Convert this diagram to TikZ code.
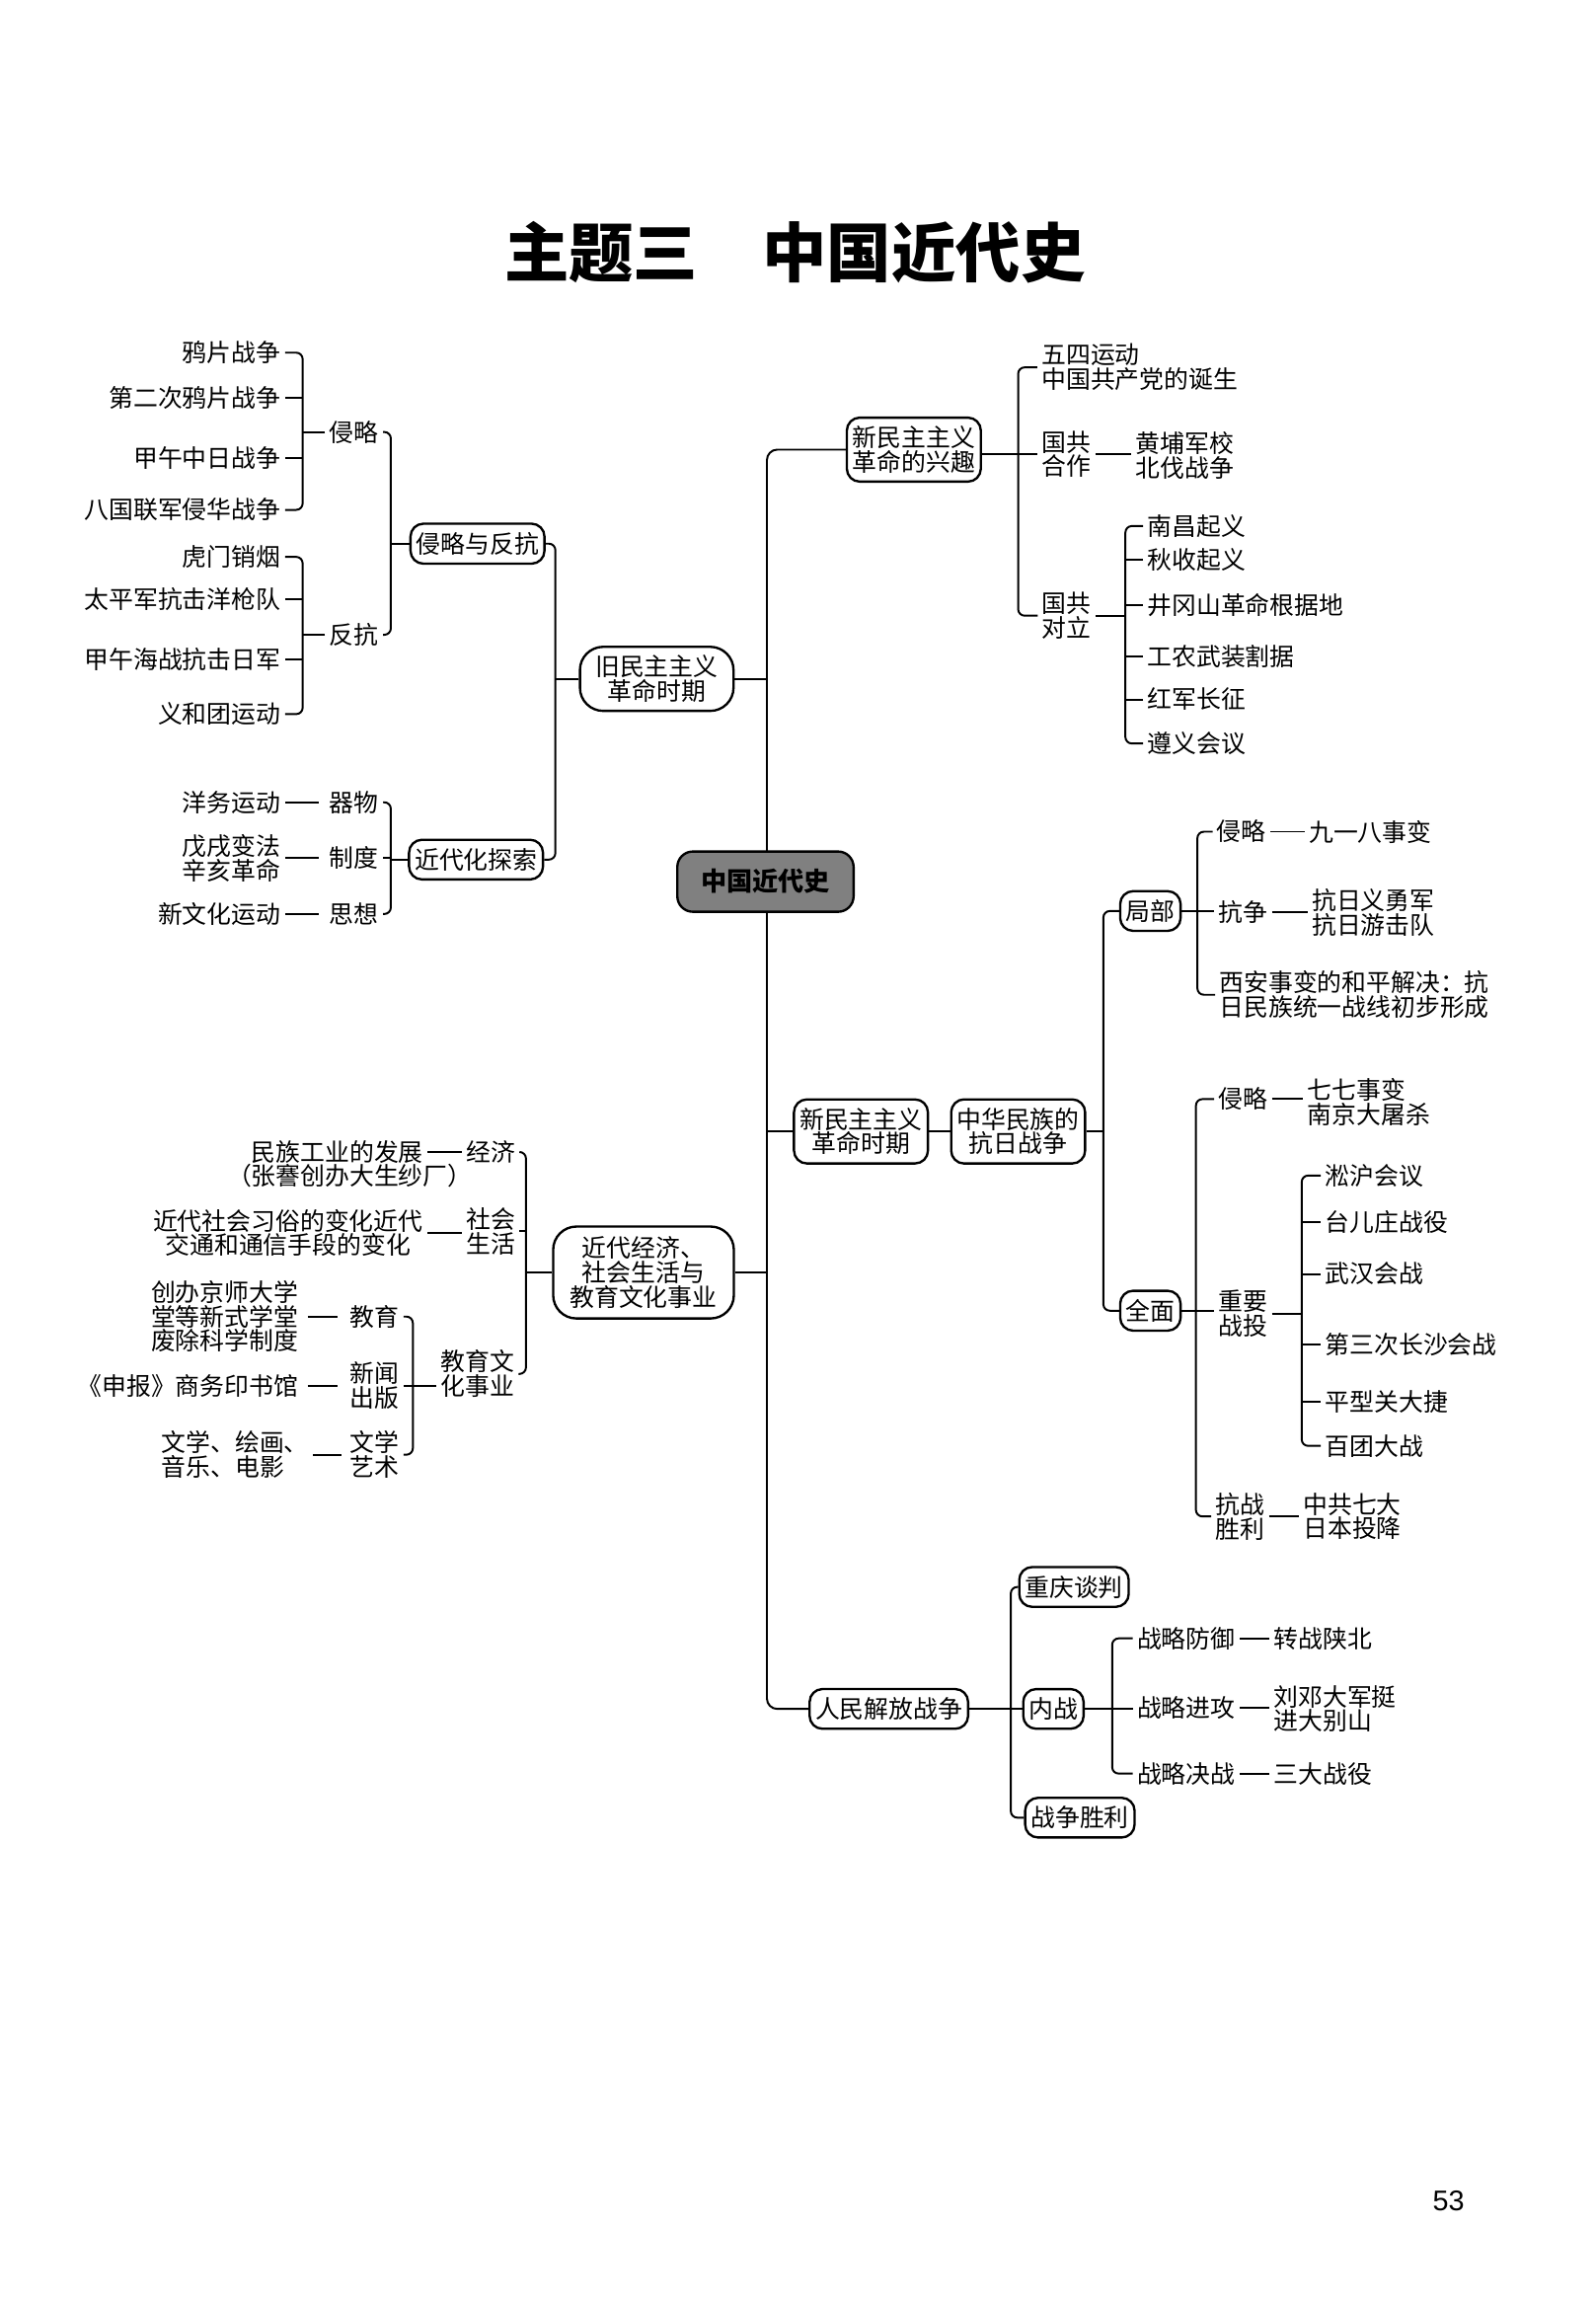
\documentclass[tikz,border=0pt]{standalone}
\usepackage{fontspec}
\setmainfont{Noto Sans CJK SC}
\newfontfamily\numfont{Liberation Sans}
\usepackage{tikz}
\usetikzlibrary{positioning, calc}

\tikzset{
  link/.style={line width=0.75pt, rounded corners=2.5pt},
  tie/.style={line width=0.75pt},
  item/.style={inner xsep=1.5pt, inner ysep=1pt, align=center, font=\fontsize{9.5}{9.4}\selectfont},
  box/.style={item, draw, line width=0.9pt, rounded corners=5pt, inner xsep=2.2pt, inner ysep=3.3pt, fill=white},
  rootbox/.style={box, fill=black!50, rounded corners=6pt, minimum width=2.4cm, minimum height=0.82cm,
                  font=\fontsize{10}{12}\selectfont\bfseries}
}

\begin{document}
\begin{tikzpicture}[x=0.02cm, y=-0.02cm]
  \useasboundingbox (0,0) rectangle (1086,1568);

  % Title
  \node[font=\fontsize{25}{30}\selectfont\bfseries] (title) at (541,172) {主题三　中国近代史};

  % Bars of the brackets
  \coordinate (sp) at (522,0);
  \coordinate (lbar) at (206,0);
  \coordinate (mbar) at (266,0);
  \coordinate (jbar) at (378,0);
  \coordinate (kbar) at (358,0);
  \coordinate (ebar) at (281,0);
  \coordinate (rbar) at (693,0);
  \coordinate (dbar) at (766,0);
  \coordinate (kbar2) at (751,0);
  \coordinate (jbar2) at (815,0);
  \coordinate (qbar) at (814,0);
  \coordinate (zbar) at (886,0);
  \coordinate (pbar) at (688,0);
  \coordinate (nbar) at (757,0);

  % Old democratic revolution
  \node[box] (qlfk) at (325,370) {侵略与反抗};
  \node[box] (jdh) at (324,585) {近代化探索};
  \node[box, inner xsep=6pt, rounded corners=9pt] (jiu) at (447,462) {旧民主主义\\革命时期};
  \node[item] (ql) at (241,294) {侵略};
  \node[item] (fk) at (241,432) {反抗};
  \foreach \n/\y/\t in {qa1/240/鸦片战争, qa2/271/第二次鸦片战争, qa3/312/甲午中日战争, qa4/347/八国联军侵华战争,
                        fk1/379/虎门销烟, fk2/408/太平军抗击洋枪队, fk3/449/甲午海战抗击日军, fk4/486/义和团运动}
    \node[item, anchor=east] (\n) at (194,\y) {\t};
  \draw[link] (qa1.east) -| (lbar |- qa4.east) -- (qa4.east);
  \draw[link] (fk1.east) -| (lbar |- fk4.east) -- (fk4.east);
  \foreach \n in {qa2,qa3,fk2,fk3} \draw[link] (\n.east) -- (\n.east -| lbar);
  \draw[link] (ql.west) -- (ql.west -| lbar);
  \draw[link] (fk.west) -- (fk.west -| lbar);
  \draw[link] (ql.east) -| (mbar |- fk.east) -- (fk.east);
  \draw[link] (qlfk.west) -- (qlfk.west -| mbar);
  \draw[link] (qlfk.east) -| (jbar |- jdh.east) -- (jdh.east);
  \draw[link] (jiu.west) -- (jiu.west -| jbar);

  \foreach \n/\y/\t in {qw/546/器物, zd/584/制度, sx/622/思想}
    \node[item] (\n) at (241,\y) {\t};
  \foreach \n/\y/\t in {yw/546/洋务运动, wx/584/{戊戌变法\\辛亥革命}, xwh/622/新文化运动}
    \node[item, anchor=east] (\n) at (194,\y) {\t};
  \foreach \a/\b in {yw/qw, wx/zd, xwh/sx} \draw[tie, shorten >=2.5pt] (\a.east) -- (\a.east -| \b.west);
  \draw[link] (qw.east) -| (mbar |- sx.east) -- (sx.east);
  \draw[link] (zd.east) -- (zd.east -| mbar);
  \draw[link] (jdh.west) -- (jdh.west -| mbar);

  % Economy, society and culture
  \node[box, inner xsep=6.5pt, inner ysep=4pt, rounded corners=9pt] (jd) at (438,866) {近代经济、\\社会生活与\\教育文化事业};
  \node[item] (jj) at (334,784) {经济};
  \node[item] (shsh) at (334,838) {社会\\生活};
  \node[item] (jywh) at (325,935) {教育文\\化事业};
  \draw[link] (jj.east) -| (kbar |- jywh.east) -- (jywh.east);
  \draw[link] (shsh.east) -- (shsh.east -| kbar);
  \draw[link] (jd.west) -- (jd.west -| kbar);

  \node[item] (jy) at (255,896) {教育};
  \node[item] (xw) at (255,943) {新闻\\出版};
  \node[item] (wxys) at (255,990) {文学\\艺术};
  \draw[link] (jy.east) -| (ebar |- wxys.east) -- (wxys.east);
  \draw[link] (xw.east) -- (xw.east -| jywh.west);

  \node[item, anchor=east] (ms1) at (291,784) {民族工业的发展};
  \node[item] (ms2) at (238,800) {（张謇创办大生纱厂）};
  \node[item] (shbh) at (196,839) {近代社会习俗的变化近代\\交通和通信手段的变化};
  \node[item, anchor=east] (jyx) at (206,896) {创办京师大学\\堂等新式学堂\\废除科学制度};
  \node[item, anchor=east] (sb) at (206,943) {《申报》商务印书馆};
  \node[item, anchor=west, align=left] (wxy) at (107,990) {文学、绘画、\\音乐、电影};
  \draw[tie] (ms1.east) -- (ms1.east -| jj.west);
  \draw[tie] (shbh.east) -- (shbh.east -| shsh.west);
  \foreach \a/\b in {jyx/jy, sb/xw}
    \draw[tie, shorten <=2pt, shorten >=3pt] (\a.east) -- (\a.east -| \b.west);
  \draw[tie, shorten >=1.5pt] (wxy.east) -- (wxy.east -| wxys.west);

  % New democratic revolution: rise
  \node[box] (xinxing) at (622,306) {新民主主义\\革命的兴趣};
  \node[item, anchor=west, align=left] (ws) at (706,250) {五四运动\\中国共产党的诞生};
  \node[item] (hz) at (726,309) {国共\\合作};
  \node[item] (dl) at (726,419) {国共\\对立};
  \node[item, anchor=west, align=left] (hp) at (770,310) {黄埔军校\\北伐战争};
  \draw[link] (ws.west) -| (rbar |- dl.west) -- (dl.west);
  \draw[link] (hz.west -| xinxing.east) -- (hz.west);
  \draw[tie] (hz.east) -- (hz.east -| hp.west);
  \foreach \n/\y/\t in {gd1/358/南昌起义, gd2/381/秋收起义, gd3/412/井冈山革命根据地,
                        gd4/447/工农武装割据, gd5/476/红军长征, gd6/506/遵义会议}
    \node[item, anchor=west] (\n) at (778,\y) {\t};
  \draw[link] (gd1.west) -| (dbar |- gd6.west) -- (gd6.west);
  \foreach \n in {gd2,gd3,gd4,gd5} \draw[link] (\n.west) -- (\n.west -| dbar);
  \draw[link] (dl.east) -- (dl.east -| dbar);

  % New democratic revolution: war of resistance
  \node[box] (xinshi) at (586,770) {新民主主义\\革命时期};
  \node[box] (kangri) at (693,770) {中华民族的\\抗日战争};
  \draw[tie] (xinshi.east) -- (kangri.west);
  \node[box] (jubu) at (783,620) {局部};
  \node[box] (qm) at (783,892) {全面};
  \draw[link] (jubu.west) -| (kbar2 |- qm.west) -- (qm.west);
  \draw[link] (kangri.east) -- (kangri.east -| kbar2);

  \node[item] (ql2) at (845,566) {侵略};
  \node[item] (kz) at (846,621) {抗争};
  \node[item, anchor=west, align=left] (xa) at (827,677) {西安事变的和平解决：抗\\日民族统一战线初步形成};
  \node[item, anchor=west] (jyb) at (888,566) {九一八事变};
  \node[item, anchor=west, align=left] (kzx) at (890,621) {抗日义勇军\\抗日游击队};
  \draw[link] (ql2.west) -| (jbar2 |- xa.west) -- (xa.west);
  \draw[link] (jubu.east) -- (jubu.east -| kz.west);
  \draw[tie] (ql2.east) -- (ql2.east -| jyb.west);
  \draw[tie] (kz.east) -- (kz.east -| kzx.west);

  \node[item] (ql3) at (846,748) {侵略};
  \node[item] (zyzy) at (846,894) {重要\\战投};
  \node[item] (kzsl) at (844,1032) {抗战\\胜利};
  \node[item, anchor=west, align=left] (nj) at (887,750) {七七事变\\南京大屠杀};
  \node[item, anchor=west, align=left] (ry) at (884,1032) {中共七大\\日本投降};
  \draw[link] (ql3.west) -| (qbar |- kzsl.west) -- (kzsl.west);
  \draw[link] (qm.east) -- (qm.east -| zyzy.west);
  \draw[tie] (ql3.east) -- (ql3.east -| nj.west);
  \draw[tie] (kzsl.east) -- (kzsl.east -| ry.west);
  \foreach \n/\y/\t in {zh1/800/淞沪会议, zh2/832/台儿庄战役, zh3/867/武汉会战,
                        zh4/915/第三次长沙会战, zh5/954/平型关大捷, zh6/984/百团大战}
    \node[item, anchor=west] (\n) at (899,\y) {\t};
  \draw[link] (zh1.west) -| (zbar |- zh6.west) -- (zh6.west);
  \foreach \n in {zh2,zh3,zh4,zh5} \draw[link] (\n.west) -- (\n.west -| zbar);
  \draw[link] (zyzy.east) -- (zyzy.east -| zbar);

  % Liberation war
  \node[box] (jf) at (605,1163) {人民解放战争};
  \node[box] (cq) at (731,1080) {重庆谈判};
  \node[box] (nz) at (717,1163) {内战};
  \node[box] (zs) at (735,1237) {战争胜利};
  \draw[link] (cq.west) -| (pbar |- zs.west) -- (zs.west);
  \draw[link] (jf.east) -- (nz.west);
  \node[item, anchor=west] (fy) at (771,1115) {战略防御};
  \node[item, anchor=west] (jg) at (771,1162) {战略进攻};
  \node[item, anchor=west] (jz) at (771,1207) {战略决战};
  \node[item, anchor=west] (zz) at (864,1115) {转战陕北};
  \node[item, anchor=west, align=left] (ld) at (864,1163) {刘邓大军挺\\进大别山};
  \node[item, anchor=west] (sd) at (864,1207) {三大战役};
  \draw[link] (fy.west) -| (nbar |- jz.west) -- (jz.west);
  \draw[link] (nz.east) -- (nz.east -| jg.west);
  \foreach \a/\b in {fy/zz, jg/ld, jz/sd} \draw[tie] (\a.east) -- (\a.east -| \b.west);

  % Main spine and root
  \draw[link, rounded corners=4pt] (xinxing.west) -| (sp |- jf.west) -- (jf.west);
  \draw[link] (jiu.east) -- (jiu.east -| sp);
  \draw[link] (jd.east) -- (jd.east -| sp);
  \draw[link] (xinshi.west -| sp) -- (xinshi.west);
  \node[rootbox] (root) at (521,600) {中国近代史};

  % Page number
  \node[font=\numfont\fontsize{11}{13}\selectfont] (pg) at (986,1498) {53};
\end{tikzpicture}
\end{document}
